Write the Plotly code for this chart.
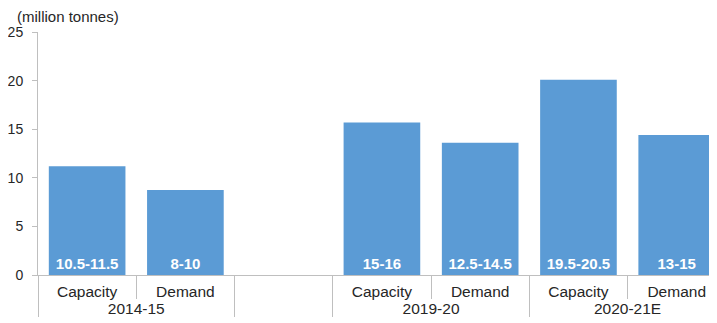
import plotly.graph_objects as go

groups = ["2014-15", "2014-15", " ", "2019-20", "2019-20", "2020-21E", "2020-21E"]
categories = ["Capacity", "Demand", " ", "Capacity", "Demand", "Capacity", "Demand"]
values = [11.2, 8.75, None, 15.7, 13.6, 20.1, 14.4]
bar_labels = ["10.5-11.5", "8-10", "", "15-16", "12.5-14.5", "19.5-20.5", "13-15"]
y_ticks = [0, 5, 10, 15, 20, 25]

fig = go.Figure(go.Bar(
    x=[groups, categories],
    y=values,
    text=bar_labels,
    textposition="inside",
    insidetextanchor="start",
    textangle=0,
    textfont=dict(family="Liberation Sans, Arial", size=15, color="white", weight="bold"),
    marker=dict(color="#5B9BD5", line=dict(width=0)),
    hoverinfo="skip",
))

# page body has an 8px default margin, so the figure is sized/offset to compensate
fig.update_layout(
    width=709, height=315,
    margin=dict(l=30, r=0, t=24, b=48, autoexpand=False),
    paper_bgcolor="white", plot_bgcolor="white",
    bargap=0.22,
    showlegend=False,
    font=dict(family="Liberation Sans, Arial", size=15, color="#262626"),
    annotations=[dict(
        text="(million tonnes)", xref="paper", yref="paper",
        x=-0.034, y=1.062, xanchor="left", yanchor="middle", showarrow=False,
        font=dict(size=15, color="#262626"),
    )],
)
fig.update_xaxes(
    type="multicategory",
    range=[-0.5, 6.41],
    automargin=False,
    showline=True, linecolor="#BFBFBF", linewidth=1,
    ticks="outside", tickson="boundaries", ticklen=23, tickcolor="#BFBFBF",
    showdividers=True, dividercolor="#BFBFBF", dividerwidth=1,
    tickfont=dict(size=15.5, color="#262626"),
    ticklabelstandoff=2,
    showgrid=False,
)
fig.update_yaxes(
    range=[0, 25], tickvals=y_ticks,
    automargin=False,
    showline=True, linecolor="#BFBFBF", linewidth=1,
    ticks="outside", ticklen=5, tickcolor="#BFBFBF",
    showgrid=False, zeroline=False,
    tickfont=dict(size=14, color="#262626"),
    ticklabelstandoff=6,
)

fig.write_html("out.html")
